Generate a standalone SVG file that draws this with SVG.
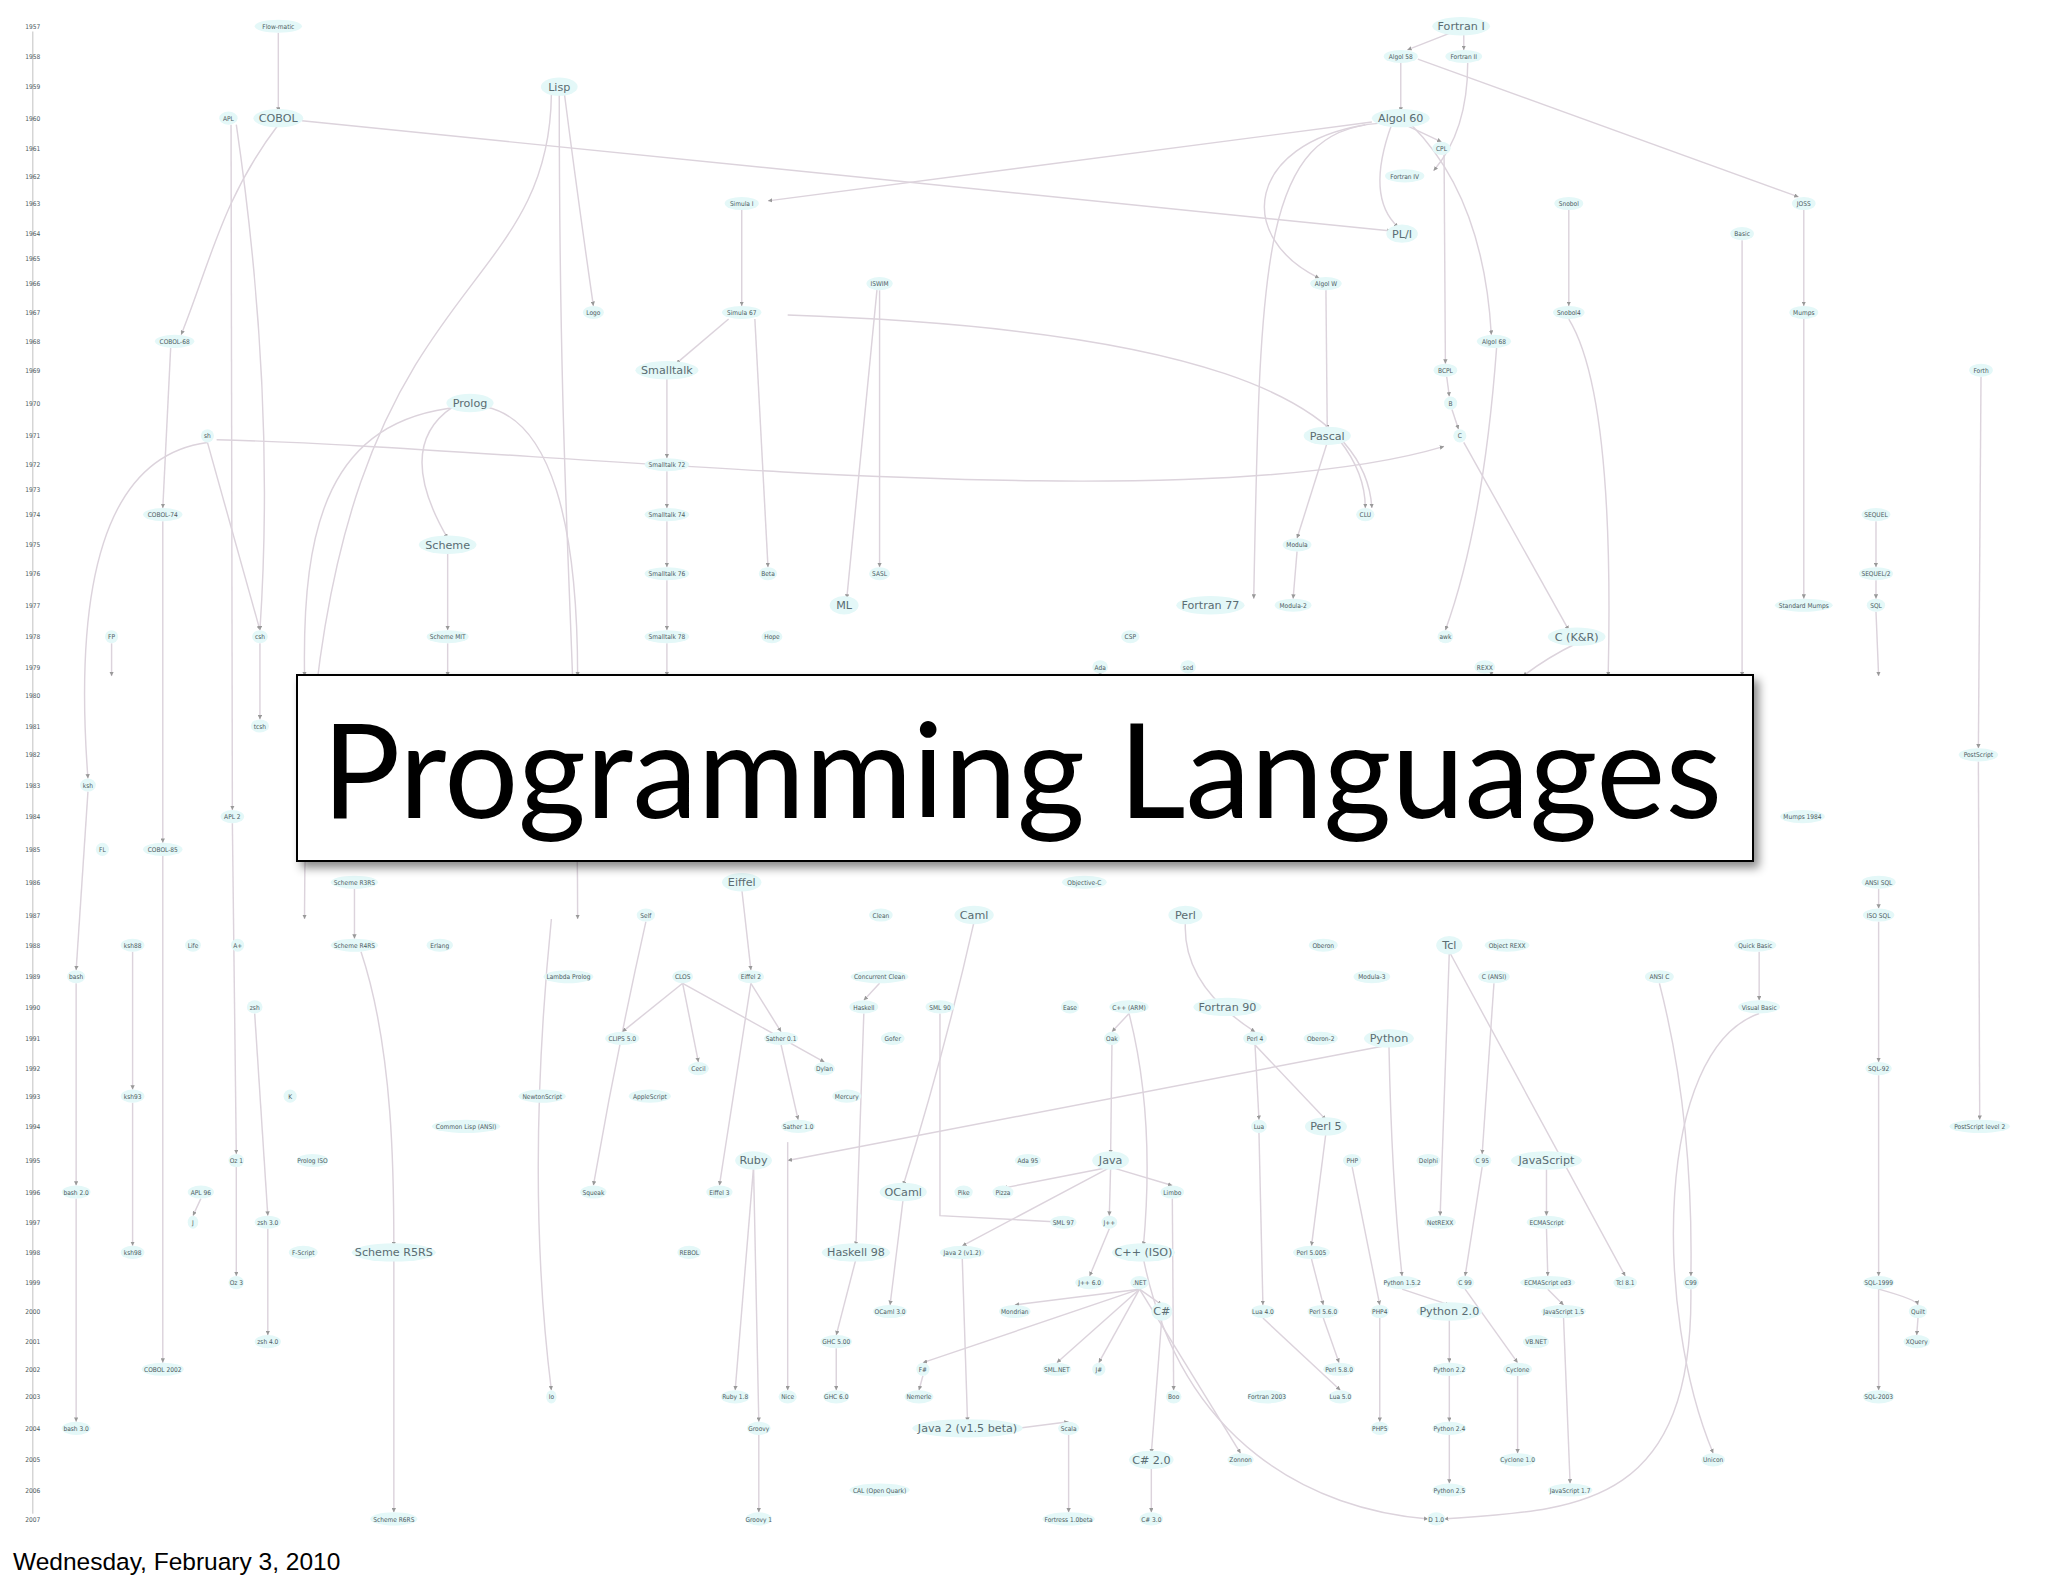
<svg xmlns="http://www.w3.org/2000/svg" width="2048" height="1576" viewBox="0 0 2048 1576">
<style>
.e{fill:none;stroke:#dcd3dc;stroke-width:1.1}
.y text,.s text{font-family:"DejaVu Sans Condensed","DejaVu Sans",sans-serif;font-size:5px;fill:#4c5a60;text-anchor:middle}
.m text{font-family:"DejaVu Sans",sans-serif;font-size:8.5px;fill:#5a6c72;text-anchor:middle}
.s ellipse,.m ellipse{fill:#e4f8f8}
.ax{stroke:#bbb;stroke-width:0.7}
</style>
<defs>
<marker id="a" markerWidth="3" markerHeight="3" refX="3" refY="1.5" orient="auto"><path d="M0,0L3,1.5L0,3z" fill="#999"/></marker>
<filter id="sh" x="-5%" y="-10%" width="112%" height="130%"><feDropShadow dx="5" dy="6" stdDeviation="5" flood-color="#000" flood-opacity="0.45"/></filter>
</defs>
<rect width="2048" height="1576" fill="#fff"/>
<g transform="scale(1.3128)">
<g id="years" class="y">
<line class="ax" x1="25" y1="24" x2="25" y2="1153"/>
<text x="25" y="22">1957</text><text x="25" y="45">1958</text><text x="25" y="68">1959</text><text x="25" y="92">1960</text><text x="25" y="115">1961</text><text x="25" y="136">1962</text><text x="25" y="157">1963</text><text x="25" y="180">1964</text><text x="25" y="199">1965</text><text x="25" y="218">1966</text><text x="25" y="240">1967</text><text x="25" y="262">1968</text><text x="25" y="284">1969</text><text x="25" y="309">1970</text><text x="25" y="334">1971</text><text x="25" y="356">1972</text><text x="25" y="375">1973</text><text x="25" y="394">1974</text><text x="25" y="417">1975</text><text x="25" y="439">1976</text><text x="25" y="463">1977</text><text x="25" y="487">1978</text><text x="25" y="510">1979</text><text x="25" y="532">1980</text><text x="25" y="555">1981</text><text x="25" y="577">1982</text><text x="25" y="600">1983</text><text x="25" y="624">1984</text><text x="25" y="649">1985</text><text x="25" y="674">1986</text><text x="25" y="699">1987</text><text x="25" y="722">1988</text><text x="25" y="746">1989</text><text x="25" y="769">1990</text><text x="25" y="793">1991</text><text x="25" y="816">1992</text><text x="25" y="837">1993</text><text x="25" y="860">1994</text><text x="25" y="886">1995</text><text x="25" y="910">1996</text><text x="25" y="933">1997</text><text x="25" y="956">1998</text><text x="25" y="979">1999</text><text x="25" y="1001">2000</text><text x="25" y="1024">2001</text><text x="25" y="1045">2002</text><text x="25" y="1066">2003</text><text x="25" y="1090">2004</text><text x="25" y="1114">2005</text><text x="25" y="1137">2006</text><text x="25" y="1159">2007</text>
</g>
<g id="connectors" class="e" marker-end="url(#a)">
<path d="M212,25L212,85"/><path d="M1105,25L1072,38"/><path d="M1115,25L1115,38"/>
<path d="M1067,48L1067,85"/><path d="M1080,45L1370,150"/><path d="M1118,48Q1118,100 1092,130"/>
<path d="M230,92L1060,176"/><path d="M430,72Q440,150 452,233"/><path d="M420,72C418,250 230,200 232,700"/>
<path d="M426,72C426,400 440,500 440,700"/>
<path d="M1045,93L585,153"/><path d="M1070,95L1098,108"/><path d="M1060,95Q1040,150 1065,173"/>
<path d="M1040,95C950,110 940,180 1005,212"/><path d="M1075,95Q1130,150 1136,255"/><path d="M1050,94C960,100 960,200 955,456"/>
<path d="M565,160L565,233"/><path d="M555,243L515,277"/>
<path d="M508,287L508,349"/><path d="M508,359L508,387"/><path d="M508,397L508,432"/><path d="M508,442L508,480"/><path d="M508,490L508,515"/>
<path d="M668,221L645,456"/><path d="M670,221L670,432"/><path d="M1010,221L1011,327"/>
<path d="M1100,118L1101,277"/><path d="M1102,287L1104,302"/><path d="M1106,312L1111,327"/>
<path d="M1195,160L1195,233"/><path d="M1374,160L1374,233"/><path d="M1374,243L1374,456"/>
<path d="M1429,397L1429,432"/><path d="M1429,442L1429,456"/><path d="M1429,466L1431,515"/>
<path d="M1509,287L1507,570"/><path d="M1327,183L1327,515"/>
<path d="M1011,337L988,410"/><path d="M988,420L985,456"/><path d="M1020,335Q1040,360 1040,387"/>
<path d="M1115,337L1195,480"/><path d="M1140,265Q1130,400 1101,480"/><path d="M1195,243Q1230,300 1225,515"/>
<path d="M600,240C900,250 1040,300 1045,387"/><path d="M575,243L585,432"/>
<path d="M165,335C400,340 900,400 1100,340"/><path d="M158,337C60,350 60,500 67,593"/><path d="M158,337L198,480"/>
<path d="M130,265L124,387"/><path d="M124,397L124,642"/><path d="M124,652L124,1038"/>
<path d="M176,95L177,617"/><path d="M180,95Q210,300 198,480"/><path d="M212,95C170,150 160,200 138,255"/>
<path d="M345,310Q300,340 341,410"/><path d="M341,420L341,480"/><path d="M341,490L341,515"/>
<path d="M370,310C420,320 440,400 440,515"/><path d="M350,310C250,320 230,400 232,515"/>
<path d="M198,490L198,548"/><path d="M85,490L85,515"/><path d="M1201,490Q1180,500 1160,515"/>
<path d="M838,510L838,515"/><path d="M1136,513L1136,515"/>
<path d="M67,603L58,739"/><path d="M58,749L58,903"/><path d="M58,913L58,1083"/>
<path d="M101,725L101,830"/><path d="M101,840L101,949"/><path d="M194,772L204,926"/><path d="M204,936L204,1017"/>
<path d="M177,627L180,879"/><path d="M180,889L180,972"/><path d="M153,913L147,926"/>
<path d="M270,677L270,715"/><path d="M275,725C300,800 300,900 300,949"/><path d="M300,959L300,1152"/>
<path d="M565,677L572,739"/><path d="M572,749L548,903"/><path d="M572,749L595,786"/><path d="M595,796L608,853"/>
<path d="M492,702Q470,800 452,903"/><path d="M520,749L474,786"/><path d="M520,749L532,809"/><path d="M520,749L628,809"/>
<path d="M658,772L652,949"/><path d="M652,959L637,1017"/><path d="M637,1027L637,1059"/><path d="M670,749L658,762"/>
<path d="M742,702Q720,800 688,903"/><path d="M688,913L678,994"/><path d="M716,772L716,926L810,931"/>
<path d="M860,772L847,786"/><path d="M847,796L846,879"/><path d="M846,889L845,926"/><path d="M846,889L733,949"/>
<path d="M860,772Q880,850 871,949"/><path d="M845,936L830,972"/><path d="M868,982L885,994"/><path d="M885,1004L877,1107"/><path d="M877,1117L877,1152"/>
<path d="M868,982L837,1038"/><path d="M868,982L805,1038"/><path d="M868,982L773,994"/><path d="M868,982L703,1038"/><path d="M868,982L945,1107"/>
<path d="M733,959L737,1083"/><path d="M737,1093L814,1083"/><path d="M814,1093L814,1152"/><path d="M703,1048L700,1059"/>
<path d="M903,702Q900,750 956,786"/><path d="M956,796L959,853"/><path d="M959,863L962,994"/><path d="M962,1004L1021,1059"/>
<path d="M956,796L1010,853"/><path d="M1010,863L999,949"/><path d="M999,959L1008,994"/><path d="M1008,1004L1020,1038"/>
<path d="M1058,796Q1060,900 1068,972"/><path d="M1068,982L1104,994"/><path d="M1104,1004L1104,1038"/><path d="M1104,1048L1104,1083"/><path d="M1104,1093L1104,1130"/>
<path d="M1030,889L1051,994"/><path d="M1051,1004L1051,1083"/>
<path d="M1178,889L1178,926"/><path d="M1178,936L1179,972"/><path d="M1179,982L1191,994"/><path d="M1191,1004L1196,1130"/>
<path d="M1156,1048L1156,1107"/><path d="M1116,982L1156,1038"/>
<path d="M1431,677L1431,692"/><path d="M1431,702L1431,809"/><path d="M1431,819L1431,972"/><path d="M1431,982L1431,1059"/><path d="M1431,982Q1460,990 1461,994"/><path d="M1461,1004L1460,1017"/>
<path d="M1507,580L1508,853"/><path d="M1340,725L1340,762"/><path d="M1340,772C1260,800 1260,1000 1305,1107"/>
<path d="M1104,725L1097,926"/><path d="M1104,725L1238,972"/><path d="M1138,749L1129,879"/><path d="M1129,889L1116,972"/>
<path d="M1264,749Q1290,850 1288,972"/><path d="M1288,982C1290,1150 1200,1150 1100,1157"/><path d="M871,959C900,1100 1000,1150 1088,1157"/>
<path d="M574,889L560,1059"/><path d="M574,889L578,1083"/><path d="M578,1093L578,1152"/><path d="M846,889L764,905"/><path d="M846,889L893,903"/>
<path d="M1058,796L600,884"/><path d="M420,700Q400,900 420,1059"/><path d="M893,913L894,1059"/><path d="M600,870L600,1059"/>
</g>
<g class="s">
<g id="flow-matic"><ellipse cx="212" cy="20" rx="18" ry="5"/><text x="212" y="22">Flow-matic</text></g>
<g id="algol58"><ellipse cx="1067" cy="43" rx="13" ry="5"/><text x="1067" y="45">Algol 58</text></g>
<g id="fortran2"><ellipse cx="1115" cy="43" rx="14" ry="5"/><text x="1115" y="45">Fortran II</text></g>
<g id="apl"><ellipse cx="174" cy="90" rx="7" ry="5"/><text x="174" y="92">APL</text></g>
<g id="cpl"><ellipse cx="1098" cy="113" rx="7" ry="5"/><text x="1098" y="115">CPL</text></g>
<g id="fortran4"><ellipse cx="1070" cy="134" rx="15" ry="5"/><text x="1070" y="136">Fortran IV</text></g>
<g id="simula1"><ellipse cx="565" cy="155" rx="13" ry="5"/><text x="565" y="157">Simula I</text></g>
<g id="snobol"><ellipse cx="1195" cy="155" rx="11" ry="5"/><text x="1195" y="157">Snobol</text></g>
<g id="joss"><ellipse cx="1374" cy="155" rx="9" ry="5"/><text x="1374" y="157">JOSS</text></g>
<g id="basic"><ellipse cx="1327" cy="178" rx="9" ry="5"/><text x="1327" y="180">Basic</text></g>
<g id="iswim"><ellipse cx="670" cy="216" rx="10" ry="5"/><text x="670" y="218">ISWIM</text></g>
<g id="algolw"><ellipse cx="1010" cy="216" rx="12" ry="5"/><text x="1010" y="218">Algol W</text></g>
<g id="logo"><ellipse cx="452" cy="238" rx="8" ry="5"/><text x="452" y="240">Logo</text></g>
<g id="simula67"><ellipse cx="565" cy="238" rx="15" ry="5"/><text x="565" y="240">Simula 67</text></g>
<g id="snobol4"><ellipse cx="1195" cy="238" rx="12" ry="5"/><text x="1195" y="240">Snobol4</text></g>
<g id="mumps"><ellipse cx="1374" cy="238" rx="11" ry="5"/><text x="1374" y="240">Mumps</text></g>
<g id="cobol68"><ellipse cx="133" cy="260" rx="15" ry="5"/><text x="133" y="262">COBOL-68</text></g>
<g id="algol68"><ellipse cx="1138" cy="260" rx="13" ry="5"/><text x="1138" y="262">Algol 68</text></g>
<g id="bcpl"><ellipse cx="1101" cy="282" rx="9" ry="5"/><text x="1101" y="284">BCPL</text></g>
<g id="forth"><ellipse cx="1509" cy="282" rx="9" ry="5"/><text x="1509" y="284">Forth</text></g>
<g id="b"><ellipse cx="1105" cy="307" rx="5" ry="5"/><text x="1105" y="309">B</text></g>
<g id="sh"><ellipse cx="158" cy="332" rx="5" ry="5"/><text x="158" y="334">sh</text></g>
<g id="c"><ellipse cx="1112" cy="332" rx="5" ry="5"/><text x="1112" y="334">C</text></g>
<g id="smalltalk72"><ellipse cx="508" cy="354" rx="17" ry="5"/><text x="508" y="356">Smalltalk 72</text></g>
<g id="cobol74"><ellipse cx="124" cy="392" rx="15" ry="5"/><text x="124" y="394">COBOL-74</text></g>
<g id="smalltalk74"><ellipse cx="508" cy="392" rx="17" ry="5"/><text x="508" y="394">Smalltalk 74</text></g>
<g id="clu"><ellipse cx="1040" cy="392" rx="7" ry="5"/><text x="1040" y="394">CLU</text></g>
<g id="sequel"><ellipse cx="1429" cy="392" rx="11" ry="5"/><text x="1429" y="394">SEQUEL</text></g>
<g id="modula"><ellipse cx="988" cy="415" rx="11" ry="5"/><text x="988" y="417">Modula</text></g>
<g id="smalltalk76"><ellipse cx="508" cy="437" rx="17" ry="5"/><text x="508" y="439">Smalltalk 76</text></g>
<g id="beta"><ellipse cx="585" cy="437" rx="7" ry="5"/><text x="585" y="439">Beta</text></g>
<g id="sasl"><ellipse cx="670" cy="437" rx="8" ry="5"/><text x="670" y="439">SASL</text></g>
<g id="sequel2"><ellipse cx="1429" cy="437" rx="13" ry="5"/><text x="1429" y="439">SEQUEL/2</text></g>
<g id="modula2"><ellipse cx="985" cy="461" rx="14" ry="5"/><text x="985" y="463">Modula-2</text></g>
<g id="stdmumps"><ellipse cx="1374" cy="461" rx="22" ry="5"/><text x="1374" y="463">Standard Mumps</text></g>
<g id="sql"><ellipse cx="1429" cy="461" rx="7" ry="5"/><text x="1429" y="463">SQL</text></g>
<g id="fp"><ellipse cx="85" cy="485" rx="5" ry="5"/><text x="85" y="487">FP</text></g>
<g id="csh"><ellipse cx="198" cy="485" rx="6" ry="5"/><text x="198" y="487">csh</text></g>
<g id="schememit"><ellipse cx="341" cy="485" rx="16" ry="5"/><text x="341" y="487">Scheme MIT</text></g>
<g id="smalltalk78"><ellipse cx="508" cy="485" rx="17" ry="5"/><text x="508" y="487">Smalltalk 78</text></g>
<g id="hope"><ellipse cx="588" cy="485" rx="8" ry="5"/><text x="588" y="487">Hope</text></g>
<g id="csp"><ellipse cx="861" cy="485" rx="7" ry="5"/><text x="861" y="487">CSP</text></g>
<g id="awk"><ellipse cx="1101" cy="485" rx="6" ry="5"/><text x="1101" y="487">awk</text></g>
<g id="ada"><ellipse cx="838" cy="508" rx="6" ry="5"/><text x="838" y="510">Ada</text></g>
<g id="sed"><ellipse cx="905" cy="508" rx="6" ry="5"/><text x="905" y="510">sed</text></g>
<g id="rexx"><ellipse cx="1131" cy="508" rx="8" ry="5"/><text x="1131" y="510">REXX</text></g>
<g id="tcsh"><ellipse cx="198" cy="553" rx="7" ry="5"/><text x="198" y="555">tcsh</text></g>
<g id="postscript"><ellipse cx="1507" cy="575" rx="15" ry="5"/><text x="1507" y="577">PostScript</text></g>
<g id="ksh"><ellipse cx="67" cy="598" rx="6" ry="5"/><text x="67" y="600">ksh</text></g>
<g id="apl2"><ellipse cx="177" cy="622" rx="9" ry="5"/><text x="177" y="624">APL 2</text></g>
<g id="mumps1984"><ellipse cx="1373" cy="622" rx="17" ry="5"/><text x="1373" y="624">Mumps 1984</text></g>
<g id="fl"><ellipse cx="78" cy="647" rx="5" ry="5"/><text x="78" y="649">FL</text></g>
<g id="cobol85"><ellipse cx="124" cy="647" rx="15" ry="5"/><text x="124" y="649">COBOL-85</text></g>
<g id="schemer3rs"><ellipse cx="270" cy="672" rx="18" ry="5"/><text x="270" y="674">Scheme R3RS</text></g>
<g id="objc"><ellipse cx="826" cy="672" rx="17" ry="5"/><text x="826" y="674">Objective-C</text></g>
<g id="ansisql"><ellipse cx="1431" cy="672" rx="13" ry="5"/><text x="1431" y="674">ANSI SQL</text></g>
<g id="self"><ellipse cx="492" cy="697" rx="7" ry="5"/><text x="492" y="699">Self</text></g>
<g id="clean"><ellipse cx="671" cy="697" rx="9" ry="5"/><text x="671" y="699">Clean</text></g>
<g id="isosql"><ellipse cx="1431" cy="697" rx="12" ry="5"/><text x="1431" y="699">ISO SQL</text></g>
<g id="ksh88"><ellipse cx="101" cy="720" rx="9" ry="5"/><text x="101" y="722">ksh88</text></g>
<g id="life"><ellipse cx="147" cy="720" rx="6" ry="5"/><text x="147" y="722">Life</text></g>
<g id="aplus"><ellipse cx="181" cy="720" rx="5" ry="5"/><text x="181" y="722">A+</text></g>
<g id="schemer4rs"><ellipse cx="270" cy="720" rx="18" ry="5"/><text x="270" y="722">Scheme R4RS</text></g>
<g id="erlang"><ellipse cx="335" cy="720" rx="10" ry="5"/><text x="335" y="722">Erlang</text></g>
<g id="oberon"><ellipse cx="1008" cy="720" rx="11" ry="5"/><text x="1008" y="722">Oberon</text></g>
<g id="objrexx"><ellipse cx="1148" cy="720" rx="17" ry="5"/><text x="1148" y="722">Object REXX</text></g>
<g id="quickbasic"><ellipse cx="1337" cy="720" rx="16" ry="5"/><text x="1337" y="722">Quick Basic</text></g>
<g id="bash"><ellipse cx="58" cy="744" rx="7" ry="5"/><text x="58" y="746">bash</text></g>
<g id="lprolog"><ellipse cx="433" cy="744" rx="19" ry="5"/><text x="433" y="746">Lambda Prolog</text></g>
<g id="clos"><ellipse cx="520" cy="744" rx="8" ry="5"/><text x="520" y="746">CLOS</text></g>
<g id="eiffel2"><ellipse cx="572" cy="744" rx="10" ry="5"/><text x="572" y="746">Eiffel 2</text></g>
<g id="cclean"><ellipse cx="670" cy="744" rx="22" ry="5"/><text x="670" y="746">Concurrent Clean</text></g>
<g id="modula3"><ellipse cx="1045" cy="744" rx="14" ry="5"/><text x="1045" y="746">Modula-3</text></g>
<g id="cansi"><ellipse cx="1138" cy="744" rx="12" ry="5"/><text x="1138" y="746">C (ANSI)</text></g>
<g id="ansic"><ellipse cx="1264" cy="744" rx="11" ry="5"/><text x="1264" y="746">ANSI C</text></g>
<g id="zsh"><ellipse cx="194" cy="767" rx="6" ry="5"/><text x="194" y="769">zsh</text></g>
<g id="haskell"><ellipse cx="658" cy="767" rx="11" ry="5"/><text x="658" y="769">Haskell</text></g>
<g id="sml90"><ellipse cx="716" cy="767" rx="11" ry="5"/><text x="716" y="769">SML 90</text></g>
<g id="ease"><ellipse cx="815" cy="767" rx="7" ry="5"/><text x="815" y="769">Ease</text></g>
<g id="cpparm"><ellipse cx="860" cy="767" rx="15" ry="5"/><text x="860" y="769">C++ (ARM)</text></g>
<g id="visualbasic"><ellipse cx="1340" cy="767" rx="16" ry="5"/><text x="1340" y="769">Visual Basic</text></g>
<g id="clips"><ellipse cx="474" cy="791" rx="13" ry="5"/><text x="474" y="793">CLIPS 5.0</text></g>
<g id="sather01"><ellipse cx="595" cy="791" rx="13" ry="5"/><text x="595" y="793">Sather 0.1</text></g>
<g id="gofer"><ellipse cx="680" cy="791" rx="9" ry="5"/><text x="680" y="793">Gofer</text></g>
<g id="oak"><ellipse cx="847" cy="791" rx="6" ry="5"/><text x="847" y="793">Oak</text></g>
<g id="perl4"><ellipse cx="956" cy="791" rx="9" ry="5"/><text x="956" y="793">Perl 4</text></g>
<g id="oberon2"><ellipse cx="1006" cy="791" rx="13" ry="5"/><text x="1006" y="793">Oberon-2</text></g>
<g id="cecil"><ellipse cx="532" cy="814" rx="8" ry="5"/><text x="532" y="816">Cecil</text></g>
<g id="dylan"><ellipse cx="628" cy="814" rx="8" ry="5"/><text x="628" y="816">Dylan</text></g>
<g id="sql92"><ellipse cx="1431" cy="814" rx="10" ry="5"/><text x="1431" y="816">SQL-92</text></g>
<g id="ksh93"><ellipse cx="101" cy="835" rx="9" ry="5"/><text x="101" y="837">ksh93</text></g>
<g id="k"><ellipse cx="221" cy="835" rx="5" ry="5"/><text x="221" y="837">K</text></g>
<g id="newtonscript"><ellipse cx="413" cy="835" rx="18" ry="5"/><text x="413" y="837">NewtonScript</text></g>
<g id="applescript"><ellipse cx="495" cy="835" rx="16" ry="5"/><text x="495" y="837">AppleScript</text></g>
<g id="mercury"><ellipse cx="645" cy="835" rx="11" ry="5"/><text x="645" y="837">Mercury</text></g>
<g id="cl"><ellipse cx="355" cy="858" rx="26" ry="5"/><text x="355" y="860">Common Lisp (ANSI)</text></g>
<g id="sather10"><ellipse cx="608" cy="858" rx="13" ry="5"/><text x="608" y="860">Sather 1.0</text></g>
<g id="lua"><ellipse cx="959" cy="858" rx="6" ry="5"/><text x="959" y="860">Lua</text></g>
<g id="ps2"><ellipse cx="1508" cy="858" rx="23" ry="5"/><text x="1508" y="860">PostScript level 2</text></g>
<g id="oz1"><ellipse cx="180" cy="884" rx="6" ry="5"/><text x="180" y="886">Oz 1</text></g>
<g id="prologiso"><ellipse cx="238" cy="884" rx="12" ry="5"/><text x="238" y="886">Prolog ISO</text></g>
<g id="ada95"><ellipse cx="783" cy="884" rx="10" ry="5"/><text x="783" y="886">Ada 95</text></g>
<g id="php"><ellipse cx="1030" cy="884" rx="7" ry="5"/><text x="1030" y="886">PHP</text></g>
<g id="delphi"><ellipse cx="1088" cy="884" rx="9" ry="5"/><text x="1088" y="886">Delphi</text></g>
<g id="c95"><ellipse cx="1129" cy="884" rx="7" ry="5"/><text x="1129" y="886">C 95</text></g>
<g id="bash2"><ellipse cx="58" cy="908" rx="11" ry="5"/><text x="58" y="910">bash 2.0</text></g>
<g id="apl96"><ellipse cx="153" cy="908" rx="10" ry="5"/><text x="153" y="910">APL 96</text></g>
<g id="squeak"><ellipse cx="452" cy="908" rx="10" ry="5"/><text x="452" y="910">Squeak</text></g>
<g id="eiffel3"><ellipse cx="548" cy="908" rx="10" ry="5"/><text x="548" y="910">Eiffel 3</text></g>
<g id="pike"><ellipse cx="734" cy="908" rx="7" ry="5"/><text x="734" y="910">Pike</text></g>
<g id="pizza"><ellipse cx="764" cy="908" rx="8" ry="5"/><text x="764" y="910">Pizza</text></g>
<g id="limbo"><ellipse cx="893" cy="908" rx="9" ry="5"/><text x="893" y="910">Limbo</text></g>
<g id="j"><ellipse cx="147" cy="931" rx="4" ry="5"/><text x="147" y="933">J</text></g>
<g id="zsh3"><ellipse cx="204" cy="931" rx="10" ry="5"/><text x="204" y="933">zsh 3.0</text></g>
<g id="sml97"><ellipse cx="810" cy="931" rx="10" ry="5"/><text x="810" y="933">SML 97</text></g>
<g id="jpp"><ellipse cx="845" cy="931" rx="6" ry="5"/><text x="845" y="933">J++</text></g>
<g id="netrexx"><ellipse cx="1097" cy="931" rx="12" ry="5"/><text x="1097" y="933">NetREXX</text></g>
<g id="ecmascript"><ellipse cx="1178" cy="931" rx="15" ry="5"/><text x="1178" y="933">ECMAScript</text></g>
<g id="ksh98"><ellipse cx="101" cy="954" rx="9" ry="5"/><text x="101" y="956">ksh98</text></g>
<g id="fscript"><ellipse cx="231" cy="954" rx="11" ry="5"/><text x="231" y="956">F-Script</text></g>
<g id="rebol"><ellipse cx="525" cy="954" rx="9" ry="5"/><text x="525" y="956">REBOL</text></g>
<g id="java2"><ellipse cx="733" cy="954" rx="17" ry="5"/><text x="733" y="956">Java 2 (v1.2)</text></g>
<g id="perl5005"><ellipse cx="999" cy="954" rx="14" ry="5"/><text x="999" y="956">Perl 5.005</text></g>
<g id="oz3"><ellipse cx="180" cy="977" rx="6" ry="5"/><text x="180" y="979">Oz 3</text></g>
<g id="jpp6"><ellipse cx="830" cy="977" rx="11" ry="5"/><text x="830" y="979">J++ 6.0</text></g>
<g id="dotnet"><ellipse cx="868" cy="977" rx="7" ry="5"/><text x="868" y="979">.NET</text></g>
<g id="python152"><ellipse cx="1068" cy="977" rx="14" ry="5"/><text x="1068" y="979">Python 1.5.2</text></g>
<g id="c99a"><ellipse cx="1116" cy="977" rx="7" ry="5"/><text x="1116" y="979">C 99</text></g>
<g id="ecma3"><ellipse cx="1179" cy="977" rx="21" ry="5"/><text x="1179" y="979">ECMAScript ed3</text></g>
<g id="tcl81"><ellipse cx="1238" cy="977" rx="9" ry="5"/><text x="1238" y="979">Tcl 8.1</text></g>
<g id="c99"><ellipse cx="1288" cy="977" rx="6" ry="5"/><text x="1288" y="979">C99</text></g>
<g id="sql1999"><ellipse cx="1431" cy="977" rx="12" ry="5"/><text x="1431" y="979">SQL-1999</text></g>
<g id="ocaml3"><ellipse cx="678" cy="999" rx="13" ry="5"/><text x="678" y="1001">OCaml 3.0</text></g>
<g id="mondrian"><ellipse cx="773" cy="999" rx="12" ry="5"/><text x="773" y="1001">Mondrian</text></g>
<g id="lua4"><ellipse cx="962" cy="999" rx="9" ry="5"/><text x="962" y="1001">Lua 4.0</text></g>
<g id="perl56"><ellipse cx="1008" cy="999" rx="12" ry="5"/><text x="1008" y="1001">Perl 5.6.0</text></g>
<g id="php4"><ellipse cx="1051" cy="999" rx="7" ry="5"/><text x="1051" y="1001">PHP4</text></g>
<g id="js15"><ellipse cx="1191" cy="999" rx="17" ry="5"/><text x="1191" y="1001">JavaScript 1.5</text></g>
<g id="quilt"><ellipse cx="1461" cy="999" rx="7" ry="5"/><text x="1461" y="1001">Quilt</text></g>
<g id="zsh4"><ellipse cx="204" cy="1022" rx="10" ry="5"/><text x="204" y="1024">zsh 4.0</text></g>
<g id="ghc5"><ellipse cx="637" cy="1022" rx="12" ry="5"/><text x="637" y="1024">GHC 5.00</text></g>
<g id="vbnet"><ellipse cx="1170" cy="1022" rx="10" ry="5"/><text x="1170" y="1024">VB.NET</text></g>
<g id="xquery"><ellipse cx="1460" cy="1022" rx="10" ry="5"/><text x="1460" y="1024">XQuery</text></g>
<g id="cobol2002"><ellipse cx="124" cy="1043" rx="16" ry="5"/><text x="124" y="1045">COBOL 2002</text></g>
<g id="fsharp"><ellipse cx="703" cy="1043" rx="5" ry="5"/><text x="703" y="1045">F#</text></g>
<g id="smlnet"><ellipse cx="805" cy="1043" rx="11" ry="5"/><text x="805" y="1045">SML.NET</text></g>
<g id="jsharp"><ellipse cx="837" cy="1043" rx="5" ry="5"/><text x="837" y="1045">J#</text></g>
<g id="perl58"><ellipse cx="1020" cy="1043" rx="12" ry="5"/><text x="1020" y="1045">Perl 5.8.0</text></g>
<g id="python22"><ellipse cx="1104" cy="1043" rx="13" ry="5"/><text x="1104" y="1045">Python 2.2</text></g>
<g id="cyclone"><ellipse cx="1156" cy="1043" rx="11" ry="5"/><text x="1156" y="1045">Cyclone</text></g>
<g id="io"><ellipse cx="420" cy="1064" rx="4" ry="5"/><text x="420" y="1066">Io</text></g>
<g id="ruby18"><ellipse cx="560" cy="1064" rx="11" ry="5"/><text x="560" y="1066">Ruby 1.8</text></g>
<g id="nice"><ellipse cx="600" cy="1064" rx="7" ry="5"/><text x="600" y="1066">Nice</text></g>
<g id="ghc6"><ellipse cx="637" cy="1064" rx="10" ry="5"/><text x="637" y="1066">GHC 6.0</text></g>
<g id="nemerle"><ellipse cx="700" cy="1064" rx="11" ry="5"/><text x="700" y="1066">Nemerle</text></g>
<g id="boo"><ellipse cx="894" cy="1064" rx="6" ry="5"/><text x="894" y="1066">Boo</text></g>
<g id="fortran2003"><ellipse cx="965" cy="1064" rx="15" ry="5"/><text x="965" y="1066">Fortran 2003</text></g>
<g id="lua5"><ellipse cx="1021" cy="1064" rx="9" ry="5"/><text x="1021" y="1066">Lua 5.0</text></g>
<g id="sql2003"><ellipse cx="1431" cy="1064" rx="12" ry="5"/><text x="1431" y="1066">SQL-2003</text></g>
<g id="bash3"><ellipse cx="58" cy="1088" rx="11" ry="5"/><text x="58" y="1090">bash 3.0</text></g>
<g id="groovy"><ellipse cx="578" cy="1088" rx="9" ry="5"/><text x="578" y="1090">Groovy</text></g>
<g id="scala"><ellipse cx="814" cy="1088" rx="8" ry="5"/><text x="814" y="1090">Scala</text></g>
<g id="php5"><ellipse cx="1051" cy="1088" rx="7" ry="5"/><text x="1051" y="1090">PHP5</text></g>
<g id="python24"><ellipse cx="1104" cy="1088" rx="13" ry="5"/><text x="1104" y="1090">Python 2.4</text></g>
<g id="zonnon"><ellipse cx="945" cy="1112" rx="10" ry="5"/><text x="945" y="1114">Zonnon</text></g>
<g id="cyclone1"><ellipse cx="1156" cy="1112" rx="14" ry="5"/><text x="1156" y="1114">Cyclone 1.0</text></g>
<g id="unicon"><ellipse cx="1305" cy="1112" rx="9" ry="5"/><text x="1305" y="1114">Unicon</text></g>
<g id="cal"><ellipse cx="670" cy="1135" rx="23" ry="5"/><text x="670" y="1137">CAL (Open Quark)</text></g>
<g id="python25"><ellipse cx="1104" cy="1135" rx="13" ry="5"/><text x="1104" y="1137">Python 2.5</text></g>
<g id="js17"><ellipse cx="1196" cy="1135" rx="17" ry="5"/><text x="1196" y="1137">JavaScript 1.7</text></g>
<g id="schemer6rs"><ellipse cx="300" cy="1157" rx="18" ry="5"/><text x="300" y="1159">Scheme R6RS</text></g>
<g id="groovy1"><ellipse cx="578" cy="1157" rx="10" ry="5"/><text x="578" y="1159">Groovy 1</text></g>
<g id="fortress"><ellipse cx="814" cy="1157" rx="20" ry="5"/><text x="814" y="1159">Fortress 1.0beta</text></g>
<g id="cs3"><ellipse cx="877" cy="1157" rx="9" ry="5"/><text x="877" y="1159">C# 3.0</text></g>
<g id="d1"><ellipse cx="1094" cy="1157" rx="7" ry="5"/><text x="1094" y="1159">D 1.0</text></g>
</g>
<g class="m">
<g id="fortran1"><ellipse cx="1113" cy="20" rx="22" ry="7"/><text x="1113" y="23">Fortran I</text></g>
<g id="lisp"><ellipse cx="426" cy="66" rx="14" ry="7"/><text x="426" y="69">Lisp</text></g>
<g id="cobol"><ellipse cx="212" cy="90" rx="19" ry="7"/><text x="212" y="93">COBOL</text></g>
<g id="algol60"><ellipse cx="1067" cy="90" rx="22" ry="7"/><text x="1067" y="93">Algol 60</text></g>
<g id="pli"><ellipse cx="1068" cy="178" rx="12" ry="7"/><text x="1068" y="181">PL/I</text></g>
<g id="smalltalk"><ellipse cx="508" cy="282" rx="24" ry="7"/><text x="508" y="285">Smalltalk</text></g>
<g id="prolog"><ellipse cx="358" cy="307" rx="18" ry="7"/><text x="358" y="310">Prolog</text></g>
<g id="pascal"><ellipse cx="1011" cy="332" rx="18" ry="7"/><text x="1011" y="335">Pascal</text></g>
<g id="scheme"><ellipse cx="341" cy="415" rx="22" ry="7"/><text x="341" y="418">Scheme</text></g>
<g id="ml"><ellipse cx="643" cy="461" rx="11" ry="7"/><text x="643" y="464">ML</text></g>
<g id="fortran77"><ellipse cx="922" cy="461" rx="26" ry="7"/><text x="922" y="464">Fortran 77</text></g>
<g id="ckr"><ellipse cx="1201" cy="485" rx="22" ry="7"/><text x="1201" y="488">C (K&amp;R)</text></g>
<g id="eiffel"><ellipse cx="565" cy="672" rx="15" ry="7"/><text x="565" y="675">Eiffel</text></g>
<g id="caml"><ellipse cx="742" cy="697" rx="15" ry="7"/><text x="742" y="700">Caml</text></g>
<g id="perl"><ellipse cx="903" cy="697" rx="13" ry="7"/><text x="903" y="700">Perl</text></g>
<g id="tcl"><ellipse cx="1104" cy="720" rx="10" ry="7"/><text x="1104" y="723">Tcl</text></g>
<g id="fortran90"><ellipse cx="935" cy="767" rx="26" ry="7"/><text x="935" y="770">Fortran 90</text></g>
<g id="python"><ellipse cx="1058" cy="791" rx="19" ry="7"/><text x="1058" y="794">Python</text></g>
<g id="perl5"><ellipse cx="1010" cy="858" rx="16" ry="7"/><text x="1010" y="861">Perl 5</text></g>
<g id="ruby"><ellipse cx="574" cy="884" rx="14" ry="7"/><text x="574" y="887">Ruby</text></g>
<g id="java"><ellipse cx="846" cy="884" rx="14" ry="7"/><text x="846" y="887">Java</text></g>
<g id="javascript"><ellipse cx="1178" cy="884" rx="27" ry="7"/><text x="1178" y="887">JavaScript</text></g>
<g id="ocaml"><ellipse cx="688" cy="908" rx="18" ry="7"/><text x="688" y="911">OCaml</text></g>
<g id="schemer5rs"><ellipse cx="300" cy="954" rx="32" ry="7"/><text x="300" y="957">Scheme R5RS</text></g>
<g id="haskell98"><ellipse cx="652" cy="954" rx="26" ry="7"/><text x="652" y="957">Haskell 98</text></g>
<g id="cppiso"><ellipse cx="871" cy="954" rx="24" ry="7"/><text x="871" y="957">C++ (ISO)</text></g>
<g id="csharp"><ellipse cx="885" cy="999" rx="8" ry="7"/><text x="885" y="1002">C#</text></g>
<g id="python20"><ellipse cx="1104" cy="999" rx="25" ry="7"/><text x="1104" y="1002">Python 2.0</text></g>
<g id="java15"><ellipse cx="737" cy="1088" rx="42" ry="7"/><text x="737" y="1091">Java 2 (v1.5 beta)</text></g>
<g id="cs2"><ellipse cx="877" cy="1112" rx="17" ry="7"/><text x="877" y="1115">C# 2.0</text></g>
</g>
</g>
<g id="title">
<rect x="297" y="675" width="1456" height="186" fill="#fff" stroke="#000" stroke-width="2" filter="url(#sh)"/>
<text x="1022" y="818" font-family="Lato,'Open Sans',sans-serif" font-size="132" text-anchor="middle" textLength="1400" lengthAdjust="spacingAndGlyphs" fill="#000">Programming Languages</text>
</g>
<text x="13" y="1570" font-family="'Liberation Sans',Arial,sans-serif" font-size="24.5" fill="#000">Wednesday, February 3, 2010</text>
</svg>
